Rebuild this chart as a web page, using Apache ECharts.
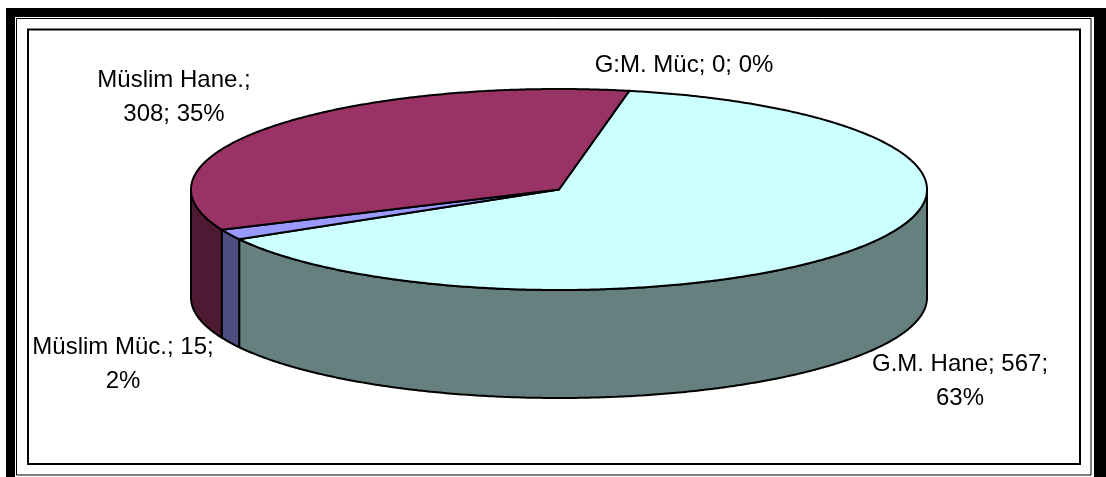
<!DOCTYPE html>
<html>
<head>
<meta charset="utf-8">
<style>html,body{margin:0;padding:0;background:#fff}#c{width:1106px;height:477px}</style>
<script src="https://cdn.jsdelivr.net/npm/echarts@6/dist/echarts.min.js"></script>
</head>
<body>
<div id="c"></div>
<script>
var names = ['G:M. Müc', 'G.M. Hane', 'Müslim Müc.', 'Müslim Hane.'];
var values = [0, 567, 15, 308];
var percents = [0, 63, 2, 35];
var topColors = ['#FFFFFF', '#CCFFFF', '#9999FF', '#993366'];
var sideColors = ['#808080', '#668080', '#4D4D80', '#4D1A33'];
var labelBreaks = [null, 2, 2, 1];           // field after which the label wraps
var labelCenters = [[684, 65], [960, 381], [123, 364], [174, 97]];

var pie = { cx: 559, cy: 189.5, rx: 368, ry: 100.5, depth: 108, start: 11 };
var total = values.reduce(function (a, b) { return a + b; }, 0);

function pt(deg, dy) {
  var r = deg * Math.PI / 180;
  return [pie.cx + pie.rx * Math.sin(r), pie.cy - pie.ry * Math.cos(r) + (dy || 0)];
}
function arc(a, b, dy) {
  var out = [], n = Math.max(2, Math.ceil(Math.abs(b - a) * 2));
  for (var i = 0; i <= n; i++) out.push(pt(a + (b - a) * i / n, dy));
  return out;
}
function labelText(i) {
  var f = [names[i], values[i], percents[i] + '%'], b = labelBreaks[i];
  if (b === null) return f.join('; ');
  return f.slice(0, b).join('; ') + ';\n' + f.slice(b).join('; ');
}
var stroke = { stroke: '#000', lineWidth: 2, lineJoin: 'round' };

function renderItem(params, api) {
  var i = params.dataIndex, v = api.value(0), before = 0;
  for (var k = 0; k < i; k++) before += values[k];
  var a0 = pie.start + before / total * 360, a1 = a0 + v / total * 360;
  var children = [];
  if (v > 0) {
    // visible wall: the part of the slice on the front half of the ellipse
    var s = Math.max(a0, 90), e = Math.min(a1, 270);
    if (e > s) {
      children.push({
        type: 'polygon', z2: 1,
        shape: { points: arc(s, e, 0).concat(arc(e, s, pie.depth)) },
        style: Object.assign({ fill: sideColors[i] }, stroke)
      });
    }
    children.push({
      type: 'polygon', z2: 2,
      shape: { points: [[pie.cx, pie.cy]].concat(arc(a0, a1, 0)) },
      style: Object.assign({ fill: topColors[i] }, stroke)
    });
  }
  children.push({
    type: 'text', z2: 3,
    style: {
      x: labelCenters[i][0], y: labelCenters[i][1], text: labelText(i),
      fill: '#000', font: '24px "Liberation Sans", Arial, sans-serif',
      lineHeight: 34, align: 'center', verticalAlign: 'middle'
    }
  });
  return { type: 'group', children: children };
}

function frame(x, y, w, h, lw, color) {
  return { type: 'rect', silent: true, shape: { x: x, y: y, width: w, height: h },
           style: { fill: 'none', stroke: color || '#000', lineWidth: lw } };
}

var chart = echarts.init(document.getElementById('c'), null, { renderer: 'canvas' });
chart.setOption({
  backgroundColor: '#fff',
  animation: false,
  graphic: [
    { type: 'rect', silent: true, shape: { x: 6, y: 8, width: 1100, height: 9 }, style: { fill: '#000' } },
    { type: 'rect', silent: true, shape: { x: 6, y: 8, width: 9, height: 469 }, style: { fill: '#000' } },
    { type: 'rect', silent: true, shape: { x: 1094, y: 8, width: 12, height: 469 }, style: { fill: '#000' } },
    frame(16.5, 18.5, 1074.5, 456.5, 1),
    frame(28, 29.5, 1052, 434.5, 2)
  ],
  series: [{
    type: 'custom',
    coordinateSystem: 'none',
    silent: true,
    clip: false,
    renderItem: renderItem,
    data: values.map(function (v) { return [v]; })
  }]
});
</script>
</body>
</html>
